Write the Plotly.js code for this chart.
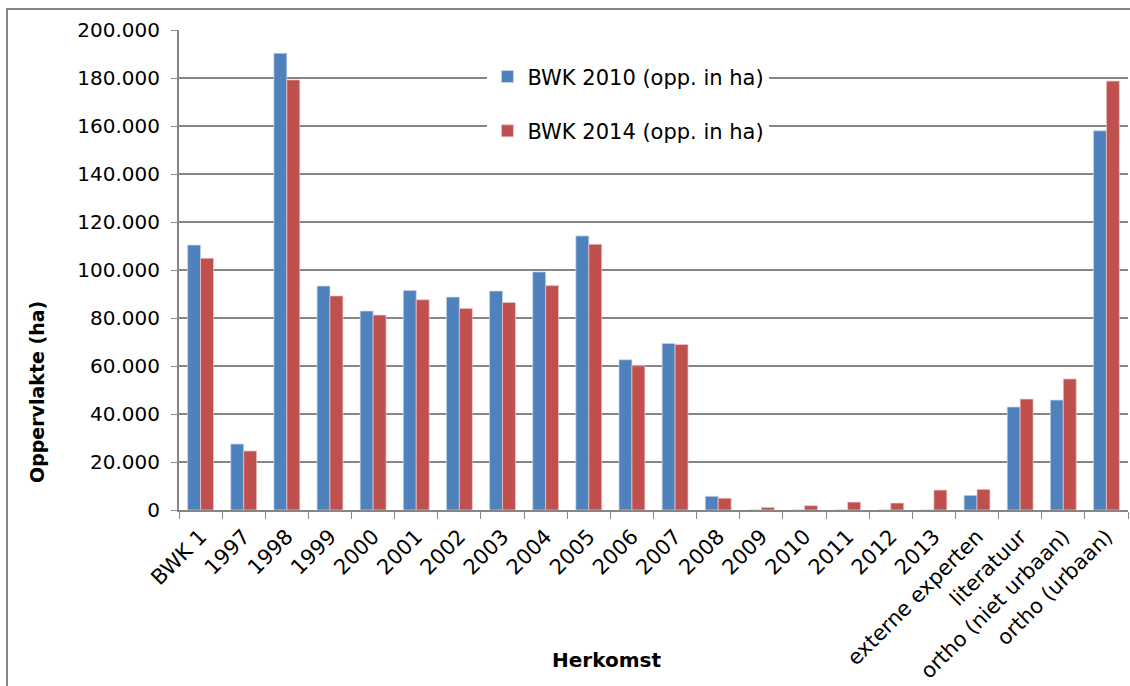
<!DOCTYPE html>
<html>
<head>
<meta charset="utf-8">
<script src="https://cdn.plot.ly/plotly-3.0.1.min.js"></script>
<style>
html,body{margin:0;padding:0;background:#fff;}
#wrap{position:relative;width:1130px;height:686px;overflow:hidden;}
#chart{width:1130px;height:686px;}
#frame{position:absolute;left:6px;top:8px;width:1140px;height:700px;border:2px solid #868686;box-sizing:border-box;pointer-events:none;}
</style>
</head>
<body>
<div id="wrap"><div id="chart"></div><div id="frame"></div></div>
<script>
const categories = ["BWK 1","1997","1998","1999","2000","2001","2002","2003","2004","2005","2006","2007","2008","2009","2010","2011","2012","2013","externe experten","literatuur","ortho (niet urbaan)","ortho (urbaan)"];
const bwk2010 = [110400,27500,190300,93300,82900,91500,88700,91200,99200,114200,62600,69400,5700,0,0,0,0,0,6100,42900,45800,158000];
const bwk2014 = [104900,24600,179200,89200,81200,87600,84000,86500,93500,110700,60100,69000,4900,1100,1800,3300,2900,8300,8600,46200,54600,178700];
const seriesNames = ["BWK 2010 (opp. in ha)","BWK 2014 (opp. in ha)"];
const yTitle = "Oppervlakte (ha)";
const xTitle = "Herkomst";

const font = "Verdana, 'DejaVu Sans', sans-serif";
const L = 179, R = 1128, T = 30, B = 510;
const px = v => (v - L) / (R - L);
const py = v => (B - v) / (B - T);
const traces = [
  {type:'bar', x:categories, y:bwk2010, name:seriesNames[0], legendgroup:'a',
   marker:{color:'#4F81BD', line:{color:'rgba(200,215,235,0.9)', width:0.8}}},
  {type:'bar', x:categories, y:bwk2014, name:seriesNames[1], legendgroup:'b',
   marker:{color:'#C0504D', line:{color:'rgba(235,200,200,0.9)', width:0.8}}}
];
const layout = {
  width:1130, height:686,
  margin:{l:L, r:1130-R, t:T, b:686-B},
  paper_bgcolor:'#fff', plot_bgcolor:'#fff',
  font:{family:font, size:20, color:'#000'},
  separators:',.',
  barmode:'group', bargap:0.4, bargroupgap:0,
  showlegend:true,
  legend:{x:0.325, y:0.945, xanchor:'left', yanchor:'top', bgcolor:'#fff',
          font:{family:font, size:21, color:'#000'}, tracegroupgap:24, itemwidth:30},
  xaxis:{type:'category', tickangle:-45, ticks:'outside', ticklen:7, tickcolor:'#868686',
         tickson:'boundaries', showline:true, linecolor:'#868686', linewidth:2,
         showgrid:false, ticklabelstandoff:4,
         tickfont:{family:font, size:21, color:'#000'}, automargin:false},
  yaxis:{range:[0,200000], dtick:20000, tickformat:',d', ticks:'outside', ticklen:6,
         tickcolor:'#868686', showline:true, linecolor:'#868686', linewidth:2,
         gridcolor:'#868686', gridwidth:2, zeroline:false, ticklabelstandoff:7,
         tickfont:{family:font, size:20, color:'#000'}, automargin:false},
  annotations:[
    {text:'<b>'+xTitle+'</b>', xref:'paper', yref:'paper', x:px(606), y:py(660),
     xanchor:'center', yanchor:'middle', showarrow:false,
     font:{family:font, size:20, color:'#000'}},
    {text:'<b>'+yTitle+'</b>', xref:'paper', yref:'paper', x:px(37), y:py(392),
     xanchor:'center', yanchor:'middle', showarrow:false, textangle:-90,
     font:{family:font, size:19, color:'#000'}}
  ]
};
Plotly.newPlot('chart', traces, layout, {displayModeBar:false, staticPlot:true});
</script>
</body>
</html>
